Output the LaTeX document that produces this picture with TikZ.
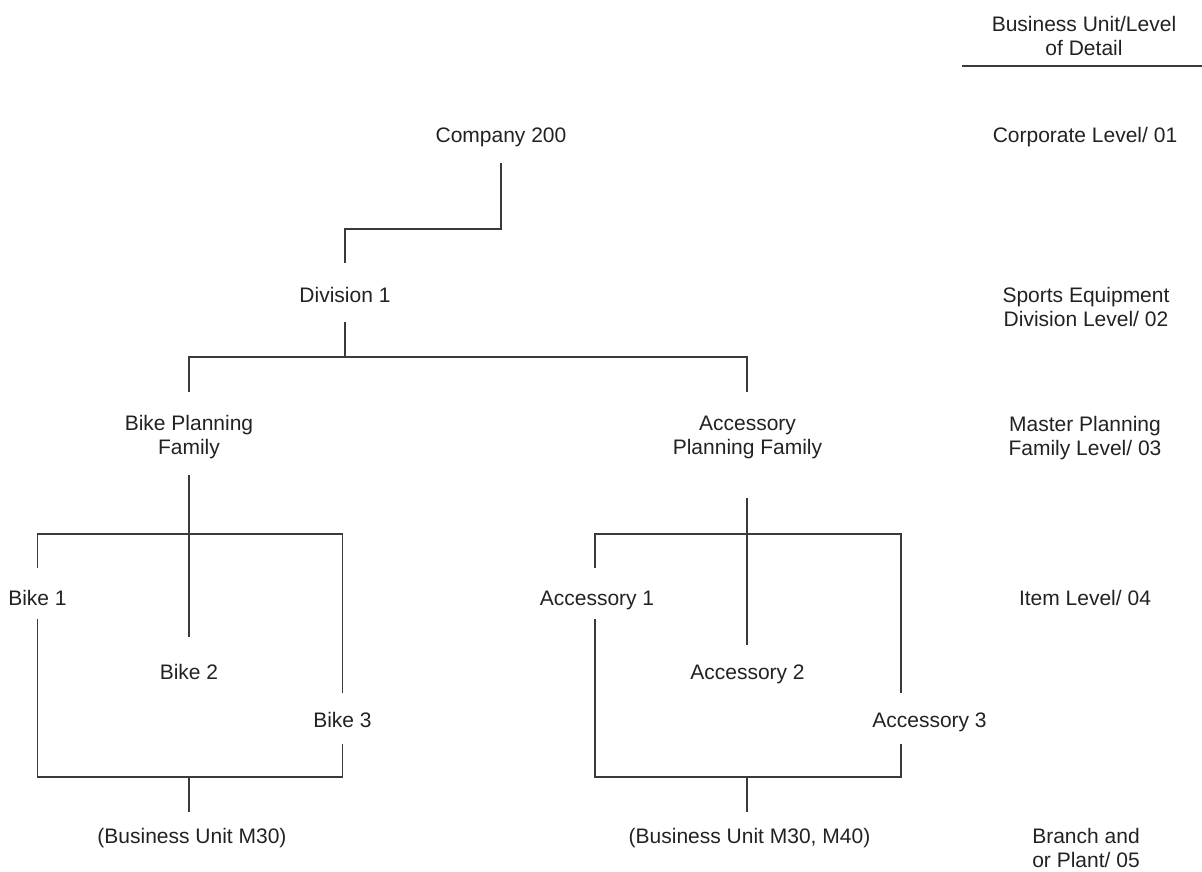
\documentclass[tikz,border=0pt]{standalone}
\usepackage{fontspec}
\setmainfont{Liberation Sans}
\newcommand\lowline{\vphantom{y}}
\definecolor{inkc}{HTML}{222222}
\definecolor{linec}{HTML}{3A3A3A}
\begin{document}
\begin{tikzpicture}[x=1pt,y=-1pt,
  every node/.style={inner sep=0pt,outer sep=0pt,text=inkc,
    font=\fontsize{21}{24}\selectfont},
  lbl/.style={text height=15.1pt,text depth=4.4pt},
  lbl2/.style={align=center},
  link/.style={draw=linec,line width=1.2pt}]
\useasboundingbox (0,0) rectangle (1202,871);

% level legend on the right
\node[lbl2] (hdr) at (1084,36) {Business Unit/Level\\of Detail};
\coordinate (hl) at (962,66);
\coordinate (hr) at (1202,66);
\draw[link] (hl) -- (hr);
\node[lbl]  (lv1) at (1085,137) {Corporate Level/ 01};
\node[lbl2] (lv2) at (1086,307) {Sports Equipment\\Division Level/ 02};
\node[lbl2] (lv3) at (1085,438) {Master Planning\\Family Level/ 03};
\node[lbl]  (lv4) at (1085,600) {Item Level/ 04};
\node[lbl2] (lv5) at (1086,850.5) {Branch and\\or Plant/ 05\lowline};

% hierarchy
\node[lbl]  (comp) at (501,137) {Company 200};
\node[lbl]  (div)  at (345,297) {Division 1};
\node[lbl2] (bpf)  at (189,437.5) {Bike Planning\\Family};
\node[lbl2] (apf)  at (747.5,437.5) {Accessory\\Planning Family};
\node[lbl]  (b1) at (37.5,600) {Bike 1};
\node[lbl]  (b2) at (189,674) {Bike 2};
\node[lbl]  (b3) at (342.5,722) {Bike 3};
\node[lbl]  (a1) at (597,600) {Accessory 1};
\node[lbl]  (a2) at (747.5,674) {Accessory 2};
\node[lbl]  (a3) at (929.5,722) {Accessory 3};
\node[lbl]  (bu1) at (192,838) {(Business Unit M30)};
\node[lbl]  (bu2) at (749.5,838) {(Business Unit M30, M40)};

% junction points
\coordinate (j0)  at (345,229);
\coordinate (j1)  at (345,357);
\coordinate (jb)  at (189,534);
\coordinate (jbb) at (189,777);
\coordinate (ja)  at (747,534);
\coordinate (ja1) at (595,534);
\coordinate (ja3) at (901,534);
\coordinate (jab) at (747,777);

% company to division
\draw[link,shorten <=16pt,shorten >=24pt] (comp.south) |- (j0) -- (j0 |- div.north);
% division to planning families
\draw[link,shorten <=15pt] (div.south) -- (j1);
\draw[link,shorten <=24pt,shorten >=24pt]
  (bpf.north) -- (bpf.north |- j1) -- (ja |- j1) -- (ja |- apf.north);

% bike family
\draw[link,shorten <=16pt,shorten >=27pt] (bpf.south) -- (b2.north);
\draw[link,shorten <=22pt,shorten >=19pt]
  (b1.north) -- (b1.north |- jb) -- (b3.north |- jb) -- (b3.north);
\draw[link,shorten <=9pt,shorten >=12pt]
  (b1.south) -- (b1.south |- jbb) -- (b3.south |- jbb) -- (b3.south);
\draw[link,shorten >=16pt] (jbb) -- (jbb |- bu1.north);

% accessory family
\draw[link,shorten <=39pt,shorten >=19pt] (ja |- apf.south) -- (ja |- a2.north);
\draw[link,shorten <=22pt,shorten >=19pt]
  (ja1 |- a1.north) -- (ja1) -- (ja3) -- (ja3 |- a3.north);
\draw[link,shorten <=9pt,shorten >=12pt]
  (ja1 |- a1.south) -- (ja1 |- jab) -- (ja3 |- jab) -- (ja3 |- a3.south);
\draw[link,shorten >=16pt] (jab) -- (jab |- bu2.north);
\end{tikzpicture}
\end{document}
